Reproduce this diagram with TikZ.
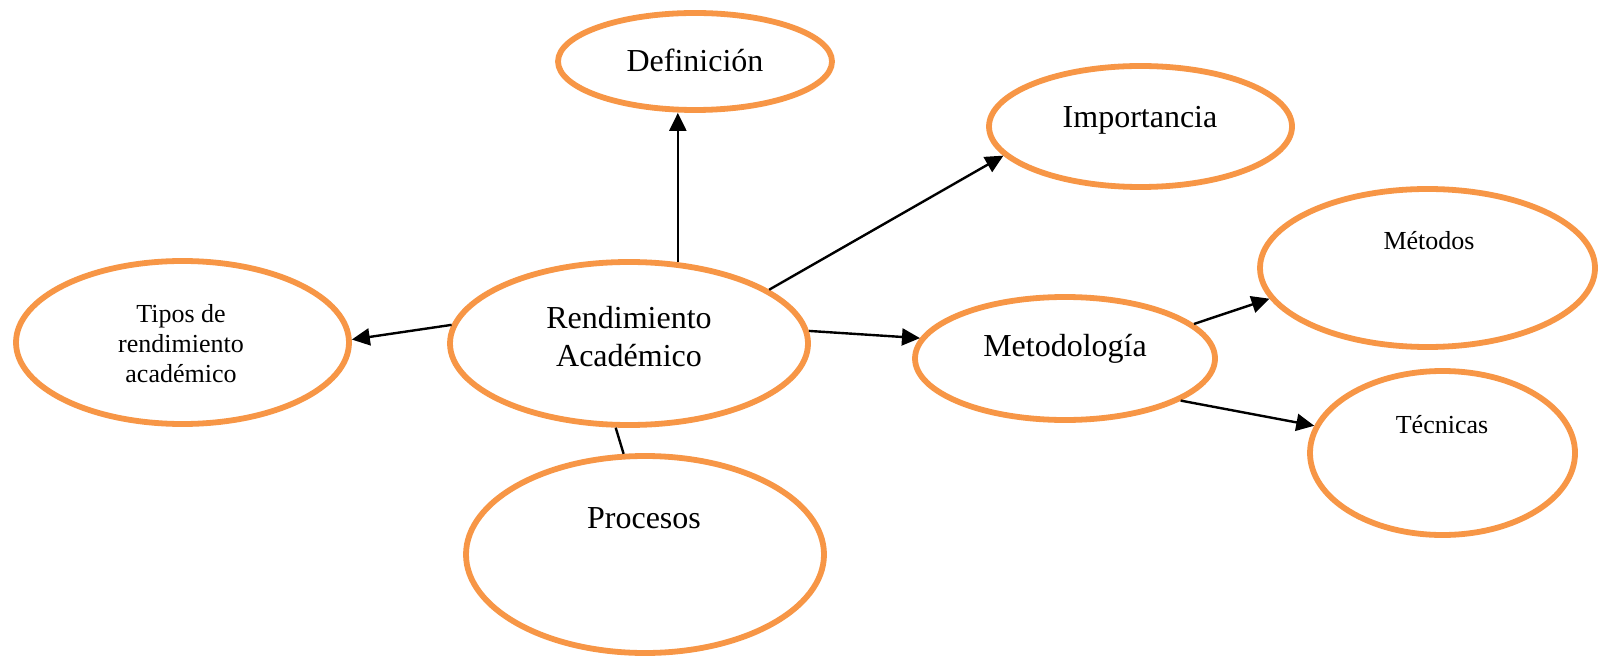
\documentclass[tikz,border=0pt]{standalone}
\usepackage{fontspec}
\setmainfont{Liberation Serif}
\usetikzlibrary{shapes.geometric,arrows.meta}
\definecolor{ora}{HTML}{F79646}
\begin{document}
\begin{tikzpicture}[x=0.5pt,y=-0.5pt,
  oval/.style={ellipse,draw=ora,line width=2.9pt,fill=white,inner sep=0pt},
  big/.style={font=\fontsize{16}{19}\selectfont,align=center,inner sep=0pt},
  small/.style={font=\fontsize{13}{15}\selectfont,align=center,inner sep=0pt},
  arr/.style={line width=1.2pt,-{Triangle[length=9pt,width=8.5pt]}},
  conn/.style={line width=1.2pt}]
\fill[white] (0,0) rectangle (1598,657);
\useasboundingbox (0,0) rectangle (1598,657);
% ellipses
\node[oval,minimum width=137pt,minimum height=48.5pt] (def) at (695,61.5) {};
\node[oval,minimum width=179pt,minimum height=81.5pt] (rend) at (629,343.5) {};
\node[oval,minimum width=151.5pt,minimum height=60.5pt] (imp) at (1140.5,126.5) {};
\node[oval,minimum width=166.5pt,minimum height=81.5pt] (tipos) at (182.5,342.5) {};
\node[oval,minimum width=150pt,minimum height=61.5pt] (metod) at (1065,358.5) {};
\node[oval,minimum width=167.5pt,minimum height=79pt] (metodos) at (1427.5,268) {};
\node[oval,minimum width=132.5pt,minimum height=82pt] (tec) at (1442.5,453) {};
\node[oval,minimum width=179pt,minimum height=98.5pt] (proc) at (645,554.5) {};
% texts
\node[big,anchor=base] (tdef) at (695,71.7) {Definición};
\node[big,anchor=center] (trend) at (629,337) {Rendimiento\\Académico};
\node[big,anchor=base] (timp) at (1140,128) {Importancia};
\node[small,anchor=center] (ttipos) at (181,344) {Tipos de\\rendimiento\\académico};
\node[big,anchor=base] (tmetod) at (1065,357) {Metodología};
\node[small,anchor=base] (tmetodos) at (1429,250) {Métodos};
\node[small,anchor=base] (ttec) at (1442,433) {Técnicas};
\node[big,anchor=base] (tproc) at (644,528) {Procesos};
% connectors
\draw[arr] (rend.174.9) -- (tipos.1.5);
\draw[arr] (rend.59) -- (rend.59 |- def.south);
\draw[arr] (rend.21) -- (imp.192);
\draw[arr] (rend.4.6) -- (metod.172.2);
\draw[conn] (rend.261.8) -- (proc.102.5);
\draw[arr] (metod.15) -- (metodos.191.3);
\draw[arr] (metod.340) -- (tec.168.6);
\end{tikzpicture}
\end{document}
